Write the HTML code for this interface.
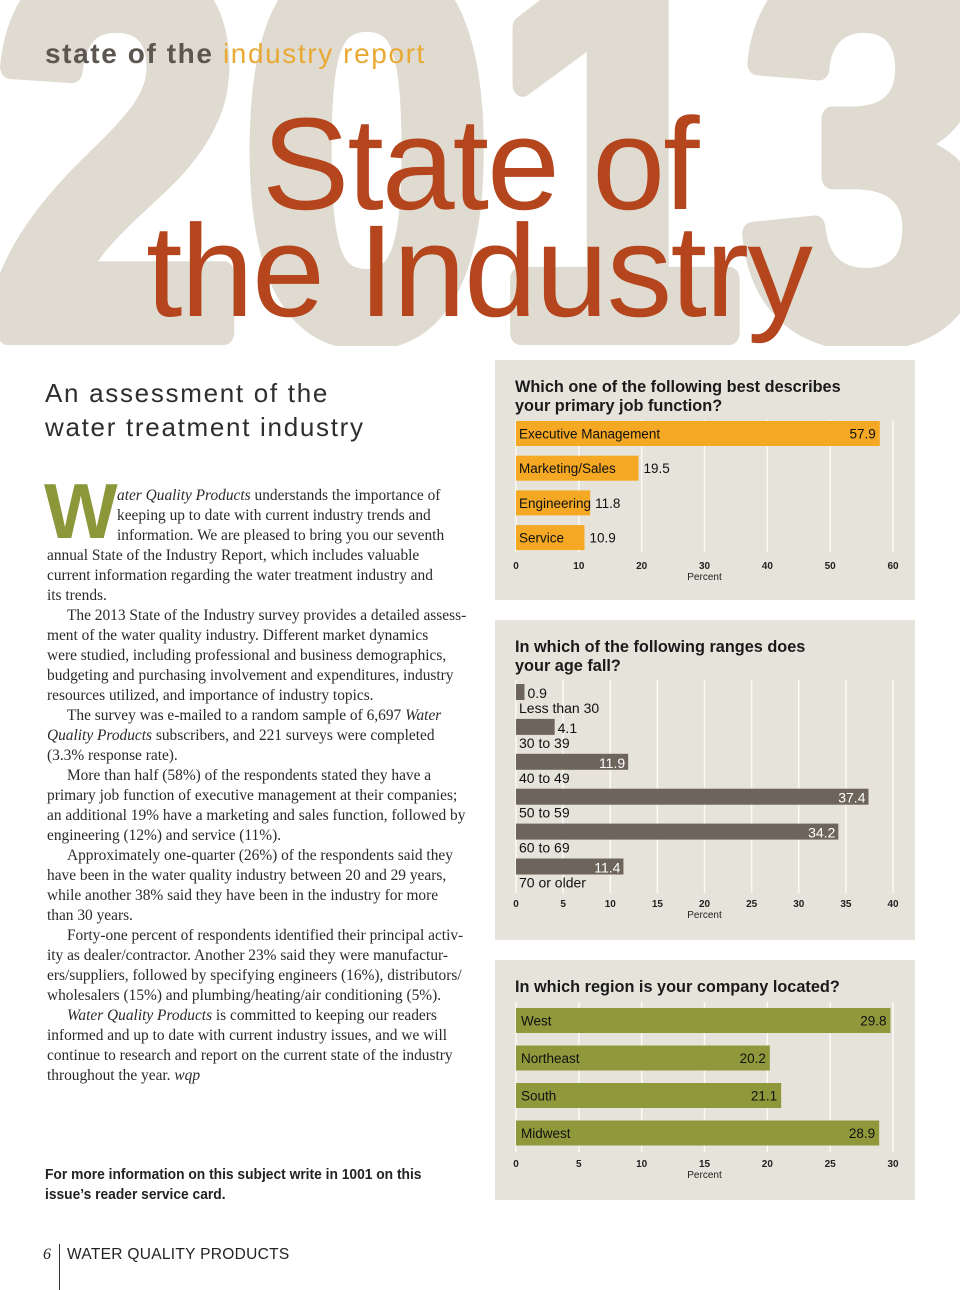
<!DOCTYPE html>
<html><head><meta charset="utf-8">
<style>
html,body{margin:0;padding:0;background:#fff;}
#page{position:relative;width:960px;height:1290px;overflow:hidden;background:#fff;font-family:"Liberation Sans",sans-serif;}
.abs{position:absolute;white-space:nowrap;}
#body-text{position:absolute;left:47px;top:486px;font-family:"Liberation Serif",serif;font-size:15.4px;line-height:20px;color:#2a2a2a;}
#body-text div{white-space:nowrap;}
.ind{padding-left:20px;}
</style></head><body>
<div id="page">
<svg class="abs" style="left:0;top:0" width="960" height="346">
<text x="-8" y="333" font-family="Liberation Sans" font-weight="bold" font-size="530" fill="#dfdbd1" stroke="#dfdbd1" stroke-width="24" stroke-linejoin="round" textLength="1000" lengthAdjust="spacingAndGlyphs">2013</text>
</svg>
<div class="abs" style="left:45px;top:38px;font-size:28px;letter-spacing:1.6px;"><b style="color:#5b5750">state of the</b> <span style="color:#e9a935">industry report</span></div>
<div class="abs" style="left:262px;top:98px;font-size:131px;color:#b4451c;letter-spacing:-2px;line-height:131px;">State of</div>
<div class="abs" style="left:146px;top:205px;font-size:131px;color:#b4451c;letter-spacing:-1.6px;line-height:131px;">the Industry</div>
<div class="abs" style="left:45px;top:376px;font-size:26px;line-height:34px;color:#2e2e2e;letter-spacing:1.7px;">An assessment of the<br>water treatment industry</div>
<div class="abs" style="left:44px;top:472px;font-family:'Liberation Sans';font-weight:bold;font-size:78px;line-height:78px;color:#8c973a;">W</div>
<div id="body-text">
<div style="padding-left:70px"><i>ater Quality Products</i> understands the importance of</div>
<div style="padding-left:70px">keeping up to date with current industry trends and</div>
<div style="padding-left:70px">information. We are pleased to bring you our seventh</div>
<div>annual State of the Industry Report, which includes valuable</div>
<div>current information regarding the water treatment industry and</div>
<div>its trends.</div>
<div class="ind">The 2013 State of the Industry survey provides a detailed assess-</div>
<div>ment of the water quality industry. Different market dynamics</div>
<div>were studied, including professional and business demographics,</div>
<div>budgeting and purchasing involvement and expenditures, industry</div>
<div>resources utilized, and importance of industry topics.</div>
<div class="ind">The survey was e-mailed to a random sample of 6,697 <i>Water</i></div>
<div><i>Quality Products</i> subscribers, and 221 surveys were completed</div>
<div>(3.3% response rate).</div>
<div class="ind">More than half (58%) of the respondents stated they have a</div>
<div>primary job function of executive management at their companies;</div>
<div>an additional 19% have a marketing and sales function, followed by</div>
<div>engineering (12%) and service (11%).</div>
<div class="ind">Approximately one-quarter (26%) of the respondents said they</div>
<div>have been in the water quality industry between 20 and 29 years,</div>
<div>while another 38% said they have been in the industry for more</div>
<div>than 30 years.</div>
<div class="ind">Forty-one percent of respondents identified their principal activ-</div>
<div>ity as dealer/contractor. Another 23% said they were manufactur-</div>
<div>ers/suppliers, followed by specifying engineers (16%), distributors/</div>
<div>wholesalers (15%) and plumbing/heating/air conditioning (5%).</div>
<div class="ind"><i>Water Quality Products</i> is committed to keeping our readers</div>
<div>informed and up to date with current industry issues, and we will</div>
<div>continue to research and report on the current state of the industry</div>
<div>throughout the year. <i>wqp</i></div>
</div>
<div class="abs" style="left:45px;top:1165px;font-size:15px;font-weight:bold;line-height:20px;color:#222;transform:scaleX(0.92);transform-origin:0 0;">For more information on this subject write in 1001 on this<br>issue’s reader service card.</div>
<div class="abs" style="left:43px;top:1246px;font-family:'Liberation Serif';font-style:italic;font-size:16px;color:#222;">6</div>
<div class="abs" style="left:59px;top:1244px;width:1px;height:46px;background:#333;"></div>
<div class="abs" style="left:67px;top:1246px;font-size:15.5px;letter-spacing:0.3px;color:#222;">WATER QUALITY PRODUCTS</div>

<svg id="charts" class="abs" style="left:0;top:0" width="960" height="1290"></svg>
</div>
<script>
const jobCats=["Executive Management","Marketing/Sales","Engineering","Service"];
const jobVals=[57.9,19.5,11.8,10.9];
const jobTicks=[0,10,20,30,40,50,60];
const ageCats=["Less than 30","30 to 39","40 to 49","50 to 59","60 to 69","70 or older"];
const ageVals=[0.9,4.1,11.9,37.4,34.2,11.4];
const ageTicks=[0,5,10,15,20,25,30,35,40];
const regCats=["West","Northeast","South","Midwest"];
const regVals=[29.8,20.2,21.1,28.9];
const regTicks=[0,5,10,15,20,25,30];

const NS="http://www.w3.org/2000/svg";
const svg=document.getElementById('charts');
function mk(tag,attrs,parent,text){const e=document.createElementNS(NS,tag);for(const k in attrs)e.setAttribute(k,attrs[k]);if(text!==undefined)e.textContent=text;(parent||svg).appendChild(e);return e;}

function chart(o){
  const g=mk('g',{});
  
  
  const bg=mk('rect',{x:495,y:o.top,width:420,height:o.h,fill:'#e6e3da'},g);
  
  
  o.title.forEach((t,i)=>{const tt=mk('text',{x:515,y:o.top+32+i*19,'font-size':16.3,'font-weight':'bold',fill:'#1a1a1a','font-family':'Liberation Sans'},g,t);
    
    });
  const x0=516,x1=893,max=o.ticks[o.ticks.length-1];
  const sx=v=>x0+(v/max)*(x1-x0);
  o.ticks.forEach(t=>{
    const gl=mk('line',{x1:sx(t),x2:sx(t),y1:o.gTop,y2:o.gBot,stroke:'#fbfaf6','stroke-width':1.5},g);
    
    
    const tl=mk('text',{x:sx(t),y:o.tickY,'font-size':10,'font-weight':'bold','text-anchor':'middle',fill:'#222','font-family':'Liberation Sans'},g,String(t));
    
    
  });
  const at=mk('text',{x:sx(max/2),y:o.tickY+11,'font-size':10,'text-anchor':'middle',fill:'#222','font-family':'Liberation Sans'},g,'Percent');
  
  
  o.cats.forEach((c,i)=>{
    const v=o.vals[i],y=o.barTop+i*o.step,w=sx(v)-x0;
    const r=mk('rect',{x:x0,y:y,width:w,height:o.bh,fill:o.color},g);
    
    
    let lbl,val;
    if(o.mode==='inside'){
      lbl=mk('text',{x:x0+(o.lpad||3),y:y+o.bh/2+5,'font-size':13.5,fill:'#111','font-family':'Liberation Sans'},g,c);
      const inside=w>o.insideMin;
      val=mk('text',{x:inside?sx(v)-4:sx(v)+5,y:y+o.bh/2+5,'font-size':13.5,fill:'#111','text-anchor':inside?'end':'start','font-family':'Liberation Sans'},g,v.toFixed(1));
    }else{
      lbl=mk('text',{x:x0+3,y:y+o.bh+13,'font-size':14,fill:'#111','font-family':'Liberation Sans'},g,c);
      const inside=w>40;
      val=mk('text',{x:inside?sx(v)-3:sx(v)+3,y:y+o.bh-2,'font-size':14,fill:inside?'#fff':'#111','text-anchor':inside?'end':'start','font-family':'Liberation Sans'},g,v.toFixed(1));
    }
    
    
    
    
  });
}
chart({name:'job-function-chart',top:360,h:240,title:['Which one of the following best describes','your primary job function?'],
  cats:jobCats,vals:jobVals,ticks:jobTicks,gTop:420,gBot:552,tickY:569,barTop:421,step:34.7,bh:25,color:'#f4a823',mode:'inside',insideMin:200,lpad:3});
chart({name:'age-chart',top:620,h:320,title:['In which of the following ranges does','your age fall?'],
  cats:ageCats,vals:ageVals,ticks:ageTicks,gTop:680,gBot:893,tickY:907,barTop:684,step:34.9,bh:16,color:'#6d655b',mode:'below'});
chart({name:'region-chart',top:960,h:240,title:['In which region is your company located?'],
  cats:regCats,vals:regVals,ticks:regTicks,gTop:1002,gBot:1152,tickY:1167,barTop:1008,step:37.5,bh:25,color:'#8f993b',mode:'inside',insideMin:100,lpad:5});
</script>
</body></html>
